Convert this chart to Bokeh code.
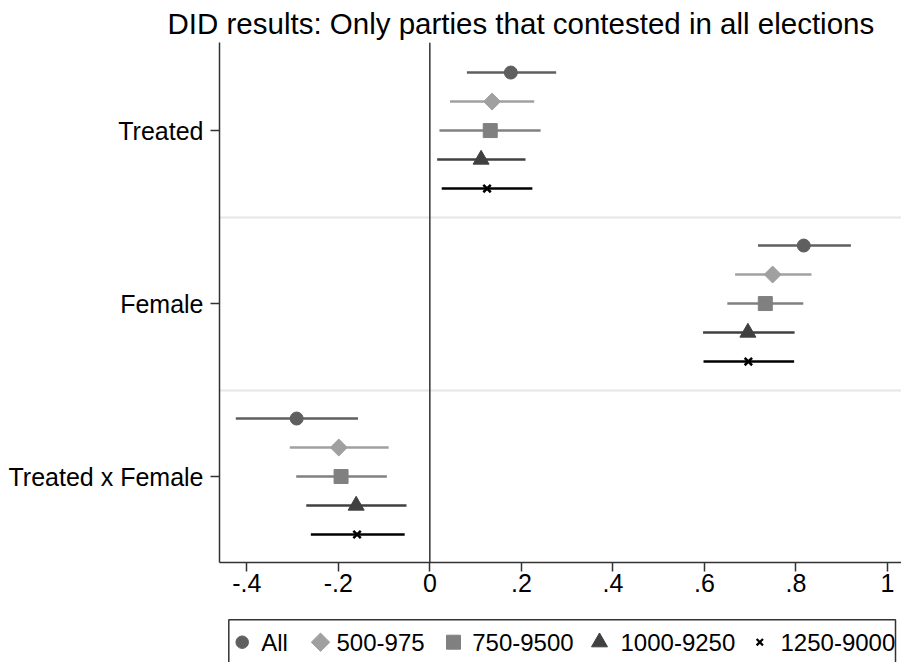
import math
from bokeh.plotting import figure
from bokeh.models import FixedTicker, Range1d, ColumnDataSource, Span
from bokeh.layouts import column
from bokeh.core.properties import value
from bokeh.embed import file_html
from bokeh.resources import INLINE

# ---- data ----
groups = ["Treated", "Female", "Treated x Female"]
series = ["All", "500-975", "750-9500", "1000-9250", "1250-9000"]

est_all = [0.177, 0.817, -0.291]
lo_all = [0.081, 0.717, -0.424]
hi_all = [0.276, 0.920, -0.157]

est_500 = [0.136, 0.749, -0.199]
lo_500 = [0.044, 0.667, -0.306]
hi_500 = [0.228, 0.834, -0.090]

est_750 = [0.132, 0.733, -0.194]
lo_750 = [0.021, 0.650, -0.292]
hi_750 = [0.242, 0.816, -0.094]

est_1000 = [0.112, 0.695, -0.161]
lo_1000 = [0.016, 0.597, -0.270]
hi_1000 = [0.209, 0.797, -0.051]

est_1250 = [0.125, 0.696, -0.159]
lo_1250 = [0.026, 0.598, -0.260]
hi_1250 = [0.224, 0.796, -0.055]

x_ticks = [-0.4, -0.2, 0, 0.2, 0.4, 0.6, 0.8, 1.0]
x_tick_labels = ["-.4", "-.2", "0", ".2", ".4", ".6", ".8", "1"]

# ---- styles ----
FONT = "Liberation Sans"
colors = ["#5f5f5f", "#a0a0a0", "#808080", "#404040", "#000000"]
markers = ["circle", "square", "square", "triangle", "x"]
angles = [0, math.pi / 4, 0, 0, 0]
sizes = [13, 12, 14, 16, 10.5]
leg_sizes = [12.5, 13, 14, 16, 9]
step = 29 / 173.0

p = figure(width=901, height=600,
           min_border_left=219, min_border_top=42, min_border_right=0, min_border_bottom=38,
           x_range=Range1d(-0.4596, 1.0306), y_range=Range1d(3.497, 0.491),
           output_backend="svg", toolbar_location=None,
           title="DID results: Only parties that contested in all elections")
p.outline_line_color = None
p.background_fill_color = "white"
p.border_fill_color = "white"

p.title.text_font = FONT
p.title.text_font_size = "29.5px"
p.title.text_font_style = "normal"
p.title.text_color = "black"
p.title.align = "left"
p.title.offset = -52
p.title.standoff = 6

data = [(est_all, lo_all, hi_all), (est_500, lo_500, hi_500), (est_750, lo_750, hi_750),
        (est_1000, lo_1000, hi_1000), (est_1250, lo_1250, hi_1250)]

for k, (est, lo, hi) in enumerate(data):
    ys = [g + 1 + (k - 2) * step for g in range(len(groups))]
    src = ColumnDataSource(dict(y=ys, est=est, lo=lo, hi=hi))
    p.segment(x0="lo", x1="hi", y0="y", y1="y", source=src,
              line_color=colors[k], line_width=2.5)
    p.scatter(x="est", y="y", source=src, marker=markers[k], size=sizes[k],
              angle=angles[k], fill_color=colors[k], line_color=colors[k],
              line_width=2.5 if markers[k] == "x" else 1)

p.add_layout(Span(location=0, dimension="height", line_color="#333333", line_width=1.5))

# axes
p.xaxis.ticker = FixedTicker(ticks=x_ticks)
p.xaxis.major_label_overrides = {t: l for t, l in zip(x_ticks, x_tick_labels)}
p.yaxis.ticker = FixedTicker(ticks=[1, 2, 3])
p.yaxis.major_label_overrides = {i + 1: g for i, g in enumerate(groups)}
for ax in (p.xaxis, p.yaxis):
    ax.axis_line_color = "#333333"
    ax.axis_line_width = 1.5
    ax.major_tick_line_color = "#333333"
    ax.major_tick_line_width = 1.5
    ax.major_tick_out = 9
    ax.major_tick_in = 0
    ax.minor_tick_line_color = None
    ax.major_label_text_font = FONT
    ax.major_label_text_font_size = "25px"
    ax.major_label_text_color = "black"
p.yaxis.major_label_standoff = 7
p.xaxis.major_label_standoff = 2

p.xgrid.visible = False
p.ygrid.ticker = FixedTicker(ticks=[1.5, 2.5])
p.ygrid.grid_line_color = "#e6e6e6"
p.ygrid.grid_line_width = 2

# ---- legend (separate strip below the plot; its frame is aligned with the plot frame) ----
key_x = [241.7, 320, 453, 599, 759.3]
text_x = [260.7, 336, 471.7, 620, 780]
row_y = 41.7

leg = figure(width=901, height=62, x_range=Range1d(219, 901), y_range=Range1d(62, 0),
             min_border=0, x_axis_location=None, y_axis_location=None,
             output_backend="svg", toolbar_location=None)
leg.outline_line_color = None
leg.xgrid.visible = False
leg.ygrid.visible = False
leg.quad(left=228.3, right=895, top=19.3, bottom=70, fill_color=None,
         line_color="#333333", line_width=1.5)
for k in range(len(series)):
    leg.scatter(x=[key_x[k]], y=[row_y], marker=markers[k], size=leg_sizes[k],
                angle=angles[k], fill_color=colors[k], line_color=colors[k],
                line_width=2.2 if markers[k] == "x" else 1)
leg.text(x=text_x, y=[row_y] * len(series), text=series,
         text_font=value(FONT), text_font_size="24px", text_color="black",
         text_baseline="middle", text_align="left")

layout = column(p, leg, spacing=0)
open("out.html", "w").write(file_html(layout, INLINE))
